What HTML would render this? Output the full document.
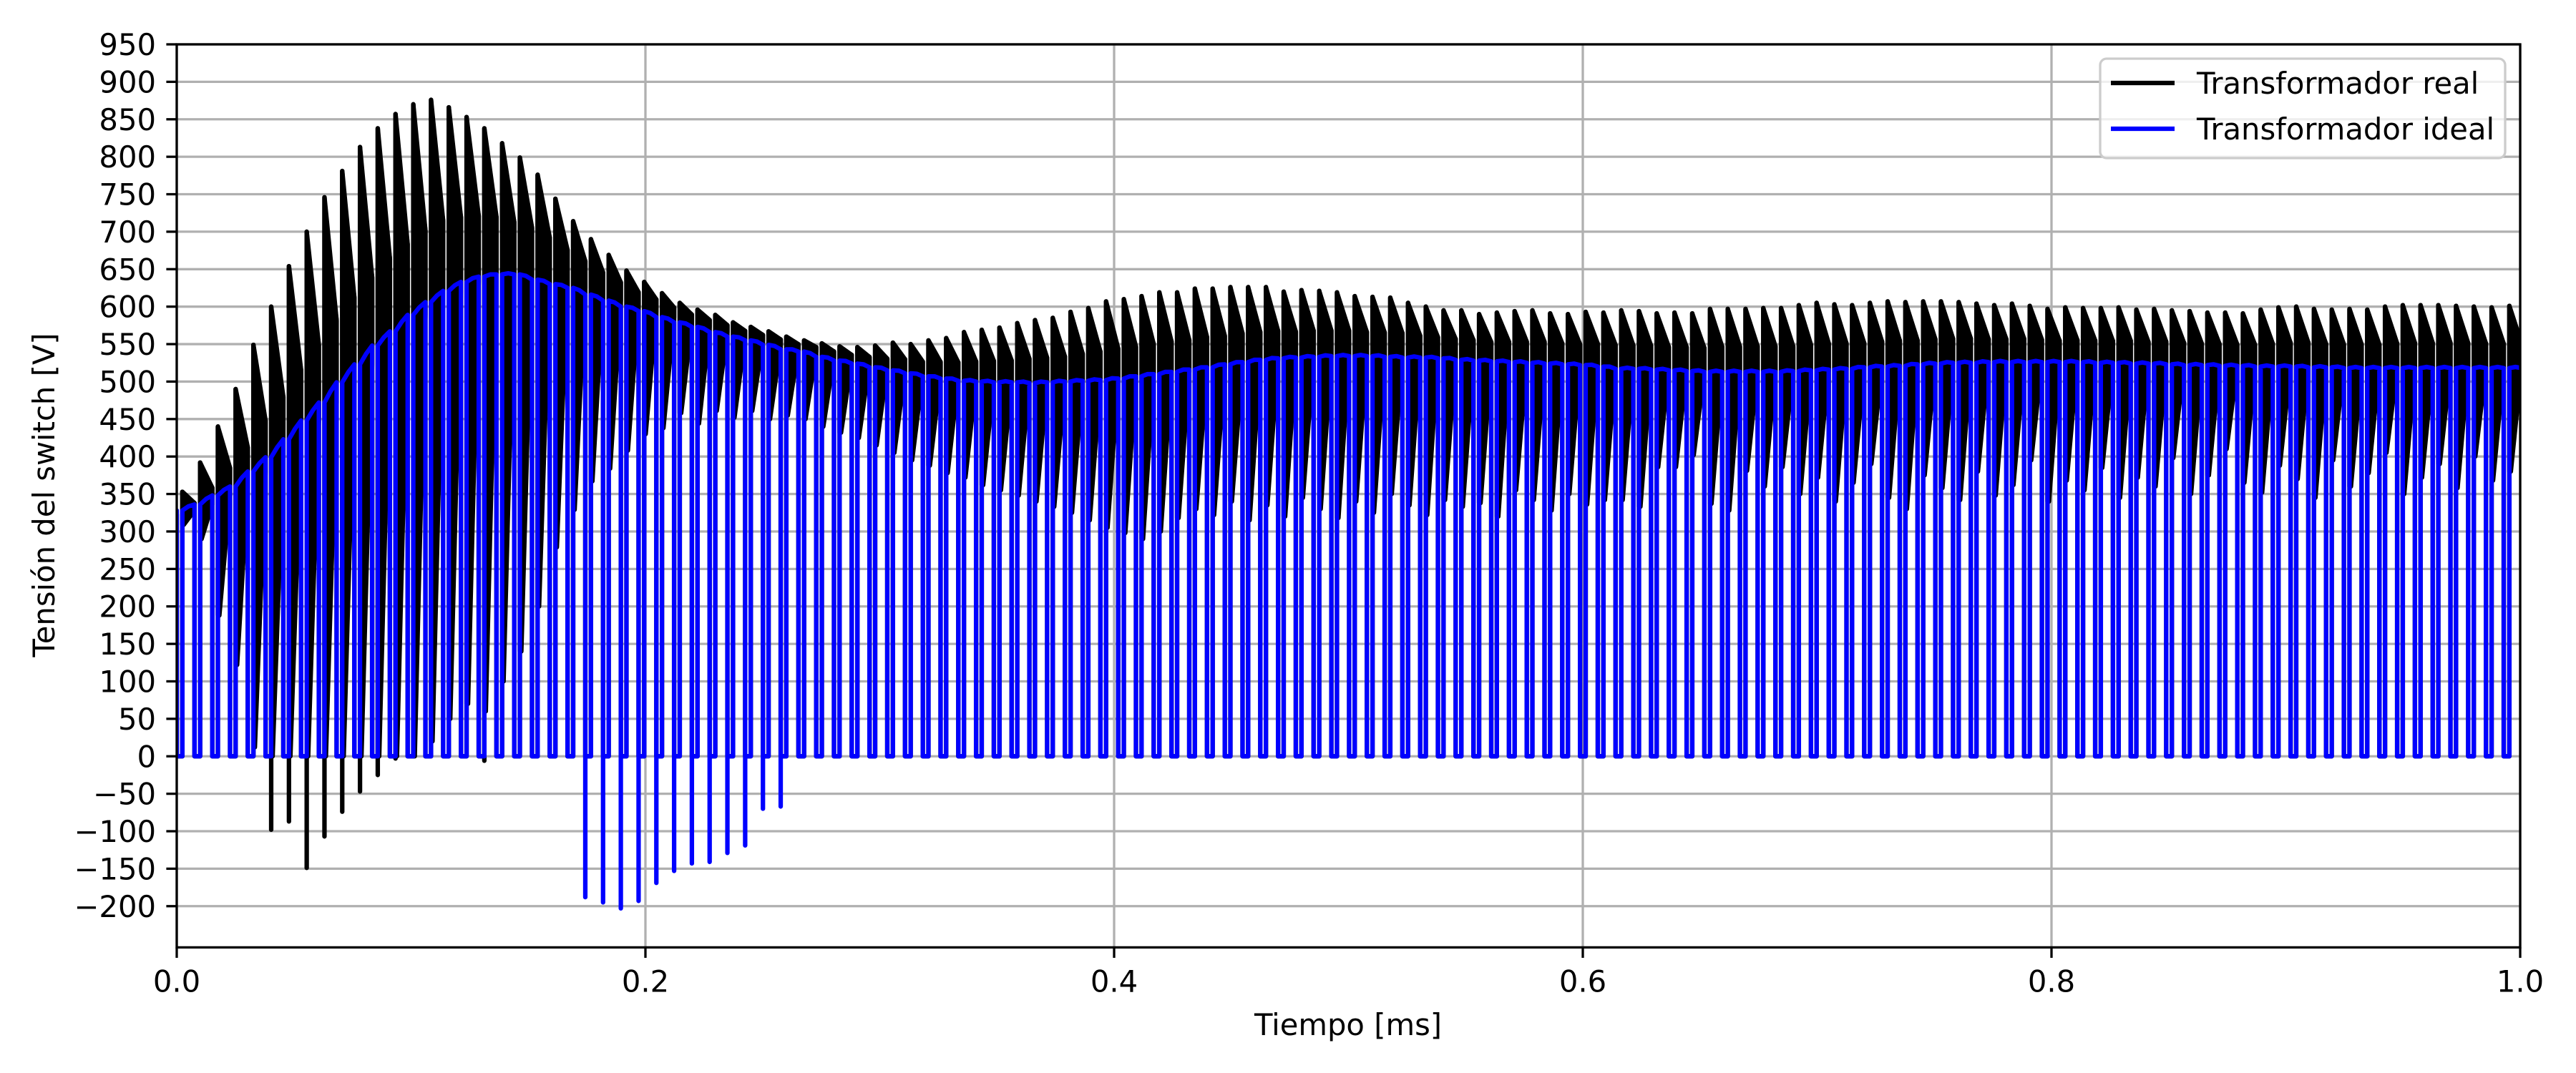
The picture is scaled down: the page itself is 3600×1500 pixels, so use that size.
<!DOCTYPE html>
<html>
<head>
<meta charset="utf-8">
<style>
html,body{margin:0;padding:0;background:#fff;}
svg{display:block;}
text{font-family:"DejaVu Sans","Liberation Sans",sans-serif;fill:#000;}
</style>
</head>
<body>
<svg id="chart" width="3600" height="1500" viewBox="0 0 3600 1500" xmlns="http://www.w3.org/2000/svg">
  <defs>
    <clipPath id="plotclip"><rect x="247" y="62" width="3275" height="1263"/></clipPath>
  </defs>
  <rect x="0" y="0" width="3600" height="1500" fill="#fff"/>
  <g id="grid"></g>
  <g id="series" clip-path="url(#plotclip)">
    <g id="realG"></g>
    <g id="idealG"></g>
  </g>
  <g id="axes"></g>
  <text x="1884" y="1447" font-size="41.7" text-anchor="middle">Tiempo [ms]</text>
  <text x="0" y="0" font-size="41.7" text-anchor="middle" transform="translate(76,692) rotate(-90)">Tensión del switch [V]</text>
  <g>
    <rect x="2935" y="82" width="566" height="139" rx="9" ry="9" fill="#fff" fill-opacity="0.8" stroke="#cccccc" stroke-width="3.3"/>
    <line x1="2950" y1="116" x2="3039" y2="116" stroke="#000" stroke-width="6.25"/>
    <text x="3070" y="131" font-size="41.7">Transformador real</text>
    <line x1="2950" y1="180" x2="3039" y2="180" stroke="#0000ff" stroke-width="6.25"/>
    <text x="3070" y="195" font-size="41.7">Transformador ideal</text>
  </g>
</svg>
<script>
// ---- chart data (per switching cycle) ----
const xTicks = [0.0, 0.2, 0.4, 0.6, 0.8, 1.0];
const xTickLabels = ["0.0", "0.2", "0.4", "0.6", "0.8", "1.0"];
const yTicks = [-200,-150,-100,-50,0,50,100,150,200,250,300,350,400,450,500,550,600,650,700,750,800,850,900,950];
const period = 0.00758;      // ms per switching cycle
const onTime = 0.0024;       // ms at 0 V at start of each cycle
const idealHigh = [328,336,348,360,380,399,423,448,472,499,523,548,567,589,606,621,633,640,643,643,636,630,625,616,608,600,594,586,579,573,566,560,555,549,543,540,
533,528,524,519,515,511,507,504,501,500,499,499,498,499,500,501,502,504,507,510,513,516,519,523,526,529,531,532,533,534,534,534,533,532,532,531,529,528,527,526,525,524,523,522,520,
517,517,516,515,514,513,513,513,513,513,514,515,516,517,519,520,521,523,524,525,525,526,526,526,526,526,526,525,525,524,524,523,522,522,521,521,520,520,520,519,519,518,518,518,518,518,518,518,518,518,518];
const idealNegCycles = [22,23,24,25,26,27,28,29,30,31,32,33];
const idealNegValues = [-188,-195,-203,-193,-169,-153,-143,-141,-129,-119,-70,-67];
const realPeak = [353,392,440,490,549,600,654,700,746,781,813,838,857,870,876,866,853,838,818,799,776,744,714,690,669,648,633,618,605,596,589,579,573,567,560,555,551,547,
546,548,552,550,555,558,566,569,572,578,582,585,593,598,607,610,614,619,619,624,624,626,626,626,620,622,621,619,614,613,612,605,600,595,595,590,592,594,595,591,590,593,592,
595,594,591,592,591,597,597,597,598,598,602,605,603,602,605,607,606,607,607,606,604,602,604,601,597,599,598,598,599,596,597,595,594,592,592,591,596,599,600,597,596,597,596,600,602,602,602,601,600,599,601];
const realLow = [309,290,188,122,12,0,0,0,0,0,0,0,0,0,20,50,70,60,100,140,200,279,329,367,384,408,430,438,458,444,461,452,461,450,455,450,
440,432,425,415,405,395,388,378,372,362,355,348,340,333,325,315,305,298,290,300,318,330,322,340,315,
335,320,345,330,318,340,325,350,335,322,342,333,338,320,355,342,328,350,336,342,
342,333,386,386,402,337,328,381,360,386,350,372,340,365,390,345,330,375,358,342,
380,348,362,395,340,368,355,385,345,372,360,398,350,375,410,365,352,388,370,345,
395,360,378,405,350,372,390,358,400,368,380];
const realNegCycles = [5,6,7,8,9,10,11,12,17];
const realNegValues = [-98,-87,-149,-107,-74,-47,-25,-3,-6];

// ---- axes ----
const X0 = 247, X1 = 3522, Y0 = 62, Y1 = 1324.4;
const xMin = 0, xMax = 1.0, yMin = -255, yMax = 950;
function xs(t){ return X0 + (t - xMin) / (xMax - xMin) * (X1 - X0); }
function ys(v){ return Y1 - (v - yMin) / (yMax - yMin) * (Y1 - Y0); }
const NS = "http://www.w3.org/2000/svg";
function mk(tag, attrs, parent){
  const e = document.createElementNS(NS, tag);
  for (const k in attrs) e.setAttribute(k, attrs[k]);
  parent.appendChild(e);
  return e;
}
const grid = document.getElementById('grid');
const axes = document.getElementById('axes');

yTicks.forEach(v => {
  const y = ys(v);
  const gl = mk('line', {x1:X0, x2:X1, y1:y, y2:y, stroke:'#b0b0b0', 'stroke-width':3.3}, grid);
  
  
  const tk = mk('line', {x1:X0-14.6, x2:X0, y1:y, y2:y, stroke:'#000', 'stroke-width':3.3}, axes);
  
  
  const tx = mk('text', {x:X0-29, y:y+15, 'font-size':41.7, 'text-anchor':'end'}, axes);
  tx.textContent = String(v).replace('-', '\u2212');
  
  
});
xTicks.forEach((t, i) => {
  const x = xs(t);
  const gl = mk('line', {x1:x, x2:x, y1:Y0, y2:Y1, stroke:'#b0b0b0', 'stroke-width':3.3}, grid);
  
  
  const tk = mk('line', {x1:x, x2:x, y1:Y1, y2:Y1+14.6, stroke:'#000', 'stroke-width':3.3}, axes);
  
  
  const tx = mk('text', {x:x, y:Y1+62, 'font-size':41.7, 'text-anchor':'middle'}, axes);
  tx.textContent = xTickLabels[i];
  
  
});
const frame = mk('rect', {x:X0, y:Y0, width:X1-X0, height:Y1-Y0, fill:'none', stroke:'#000', 'stroke-width':3.3}, axes);



// ---- real transformer (black) ----
const realG = document.getElementById('realG');
let realD = 'M' + xs(0) + ',' + ys(realPeak[0] - 30) + ' L' + xs(0) + ',' + ys(0);
let blobD = '';
for (let k = 0; k < realPeak.length; k++) {
  const ts = onTime + k * period, te = (k + 1) * period, h = te - ts;
  const P = realPeak[k], B = idealHigh[k], Lw = realLow[k];
  const E = B + 0.4 * (P - B);
  const ni = realNegCycles.indexOf(k);
  const neg = ni >= 0 ? realNegValues[ni] : 0;
  realD += ' L' + xs(ts) + ',' + ys(0) + ' L' + xs(ts) + ',' + ys(neg) + ' L' + xs(ts) + ',' + ys(P) +
           ' L' + xs(te) + ',' + ys(E) + ' L' + xs(te) + ',' + ys(0);
  blobD += 'M' + xs(ts) + ',' + ys(P) +
    ' L' + xs(ts + 0.07*h) + ',' + ys(P - 0.12*(P-E)) +
    ' L' + xs(ts + 0.35*h) + ',' + ys(P - 0.5*(P-E)) +
    ' L' + xs(te) + ',' + ys(E) +
    ' L' + xs(te) + ',' + ys(B) +
    ' L' + xs(ts + 0.6*h) + ',' + ys(Lw + 0.55*(B-Lw)) +
    ' L' + xs(ts + 0.12*h) + ',' + ys(Lw) +
    ' L' + xs(ts) + ',' + ys(Lw) + ' Z ';
}
const blobs = mk('path', {d:blobD, fill:'#000', stroke:'#000', 'stroke-width':6.25, 'stroke-linejoin':'round'}, realG);


const realLine = mk('path', {d:realD, fill:'none', stroke:'#000', 'stroke-width':6.25, 'stroke-linejoin':'round', 'stroke-linecap':'round'}, realG);



// ---- ideal transformer (blue) ----
const idealG = document.getElementById('idealG');
let idealD = 'M' + xs(0) + ',' + ys(idealHigh[0]) + ' L' + xs(0) + ',' + ys(0);
for (let k = 0; k < idealHigh.length; k++) {
  const ts = onTime + k * period, te = (k + 1) * period;
  const B = idealHigh[k];
  const Bn = k + 1 < idealHigh.length ? idealHigh[k + 1] : B;
  const ni = idealNegCycles.indexOf(k);
  idealD += ' L' + xs(ts) + ',' + ys(0) + ' L' + xs(ts) + ',' + ys(B) +
            ' L' + xs(ts + 0.5*(te-ts)) + ',' + ys(B + 0.5*(Bn-B) + 1.5) +
            ' L' + xs(te) + ',' + ys(Bn);
  if (ni >= 0) idealD += ' L' + xs(te) + ',' + ys(idealNegValues[ni]);
  idealD += ' L' + xs(te) + ',' + ys(0);
}
const idealLine = mk('path', {d:idealD, fill:'none', stroke:'#0000ff', 'stroke-width':6.25, 'stroke-linejoin':'round', 'stroke-linecap':'round'}, idealG);


</script>
</body>
</html>
